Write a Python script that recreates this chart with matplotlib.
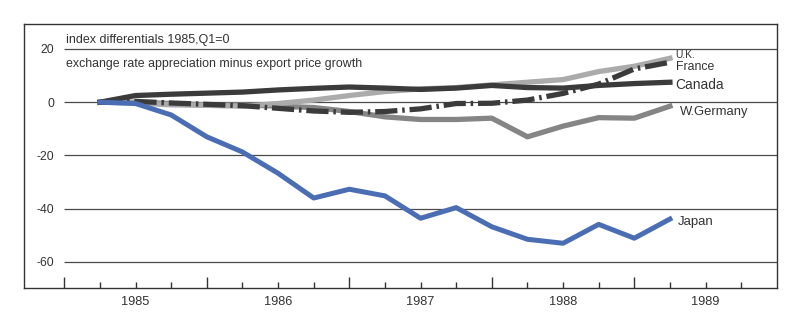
import matplotlib
matplotlib.use("Agg")
import matplotlib.pyplot as plt
from matplotlib.ticker import FixedLocator, FuncFormatter, NullFormatter

plt.rcParams['font.family'] = ['Liberation Sans', 'DejaVu Sans']
plt.rcParams['lines.scale_dashes'] = False

# ---- data ----
quarters = ['1985Q1', '1985Q2', '1985Q3', '1985Q4',
            '1986Q1', '1986Q2', '1986Q3', '1986Q4',
            '1987Q1', '1987Q2', '1987Q3', '1987Q4',
            '1988Q1', '1988Q2', '1988Q3', '1988Q4',
            '1989Q1']
japan = [0, -0.5, -4.8, -13, -18.7, -26.7, -36, -32.7, -35.2,
         -43.6, -39.6, -46.8, -51.5, -53, -45.9, -51.1, -43.9]
canada = [0, 2.5, 3.0, 3.4, 3.8, 4.6, 5.2, 5.7, 5.3,
          4.8, 5.3, 6.3, 5.5, 5.3, 6.3, 7.0, 7.5]
uk = [0, -0.3, -1.0, -1.2, -1.5, -0.5, 0.8, 2.5, 4.0,
      5.0, 5.5, 6.5, 7.5, 8.5, 11.5, 13.5, 16.5]
france = [0, 0.3, -0.3, -0.8, -1.3, -2.3, -3.3, -3.8, -3.5,
          -2.5, -0.5, -0.4, 0.8, 3.3, 6.8, 12.5, 15.0]
wgermany = [0, 0, -0.5, -1.0, -1.0, -1.5, -2.0, -3.5, -5.5,
            -6.5, -6.5, -6.0, -13.0, -9.0, -5.8, -6.0, -1.5]
years = [1985, 1986, 1987, 1988, 1989]
yticks = [20, 0, -20, -40, -60]


def q2x(q):
    # quarterly values plotted at the end of each quarter
    return int(q[:4]) + int(q[5]) * 0.25


x = [q2x(q) for q in quarters]

fig = plt.figure(figsize=(8, 3.28), dpi=100)
ax = fig.add_axes([0.030, 0.122, 0.941, 0.805])

ax.set_xlim(1984.717, 1990.0)
ax.set_ylim(-69.8, 29.4)

# gridlines
ax.hlines(yticks, 1985.0, 1990.0, colors='#4a4a4a', linewidth=0.9, zorder=1)

# series
ax.plot(x, wgermany, color='#858585', lw=3.8, zorder=2)
ax.plot(x, uk, color='#ababab', lw=3.8, zorder=3)
ax.plot(x, canada, color='#3b3b3b', lw=3.8, zorder=4)
ax.plot(x, france, color='#3b3b3b', lw=3.8, zorder=5,
        dashes=(16, 3.5, 1.8, 3.5))
ax.plot(x, japan, color='#4a6db4', lw=3.6, zorder=6)

# series labels
lab_kw = dict(color='#333333', va='center', ha='left')
ax.text(1989.29, 17.6, 'U.K.', fontsize=7.4, **lab_kw)
ax.text(1989.29, 13.3, 'France', fontsize=8.8, **lab_kw)
ax.text(1989.29, 6.4, 'Canada', fontsize=9.9, **lab_kw)
ax.text(1989.32, -3.6, 'W.Germany', fontsize=9.4, **lab_kw)
ax.text(1989.305, -44.9, 'Japan', fontsize=9.5, **lab_kw)

# annotations
ax.text(1985.01, 23.2, 'index differentials 1985,Q1=0', fontsize=9,
        color='#333333', va='center', ha='left')
ax.text(1985.01, 14.4, 'exchange rate appreciation minus export price growth',
        fontsize=8.9, color='#333333', va='center', ha='left')

# y ticks (labels inside frame)
ax.set_yticks(yticks)
ax.set_yticklabels([str(v) for v in yticks])
ax.tick_params(axis='y', length=0, pad=-21.8, labelsize=8.8, labelcolor='#333333')

# x ticks
ax.xaxis.set_major_locator(FixedLocator(years))
ax.xaxis.set_major_formatter(NullFormatter())
minor = [y + f for y in years for f in (0.25, 0.5, 0.75)]
ax.xaxis.set_minor_locator(FixedLocator(minor))
ax.xaxis.set_minor_formatter(FuncFormatter(
    lambda v, p: str(int(v)) if abs(v % 1 - 0.5) < 1e-6 else ''))
ax.tick_params(axis='x', which='major', direction='in', length=8, width=1.0,
               color='#333333')
ax.tick_params(axis='x', which='minor', direction='in', length=4.2, width=1.0,
               color='#333333', pad=6.0, labelsize=9.2, labelcolor='#333333')

for s in ax.spines.values():
    s.set_color('#333333')
    s.set_linewidth(1.0)

fig.savefig('out.png', dpi=100)
